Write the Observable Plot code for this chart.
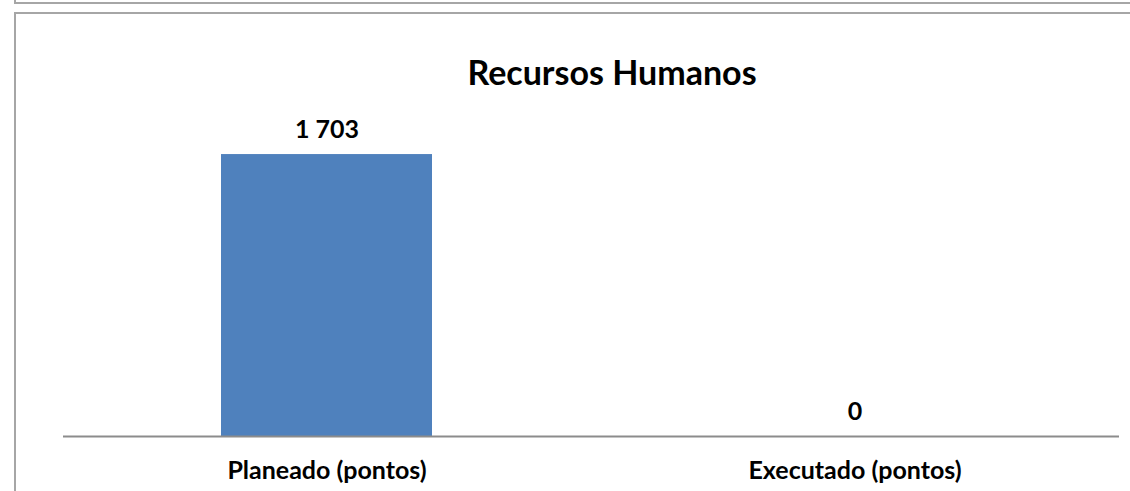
<!DOCTYPE html>
<html>
<head>
<meta charset="utf-8">
<script src="https://cdn.jsdelivr.net/npm/d3@7"></script>
<script src="https://cdn.jsdelivr.net/npm/@observablehq/plot@0.6"></script>
<style>
  html, body { margin: 0; padding: 0; background: #fff; }
  #wrap { position: relative; width: 1130px; height: 491px; overflow: hidden; font-family: Lato, "Open Sans", sans-serif; }
  .box1 { position: absolute; left: 14px; top: -10px; width: 1200px; height: 12px; border-left: 2px solid #a6a6a6; border-bottom: 2px solid #a6a6a6; }
  .box2 { position: absolute; left: 14px; top: 12px; width: 1200px; height: 600px; border-left: 2px solid #a6a6a6; border-top: 2px solid #a6a6a6; }
  #title { position: absolute; left: 612px; top: 52px; transform: translateX(-50%); font-weight: 700; font-size: 34px; color: #000; white-space: nowrap; line-height: 40px; }
  #chart { position: absolute; left: 0; top: 0; }
</style>
</head>
<body>
<div id="wrap">
  <div class="box1"></div>
  <div class="box2"></div>
  <div id="chart"></div>
  <div id="title">Recursos Humanos</div>
</div>
<script>
const categories = ["Planeado (pontos)", "Executado (pontos)"];
const values = [1703, 0];

const data = categories.map((c, i) => ({category: c, value: values[i]}));
const fmt = d3.formatLocale({decimal: ",", thousands: " ", grouping: [3], currency: ["", ""]}).format(",");

const chart = Plot.plot({
  width: 1130,
  height: 491,
  marginLeft: 63,
  marginRight: 11,
  marginTop: 138,
  marginBottom: 55,
  style: {background: "transparent", fontFamily: "Lato, 'Open Sans', sans-serif"},
  x: {domain: categories, paddingInner: 0.6, paddingOuter: 0.3, label: null},
  y: {domain: [0, 1800], axis: null},
  marks: [
    Plot.barY(data, {x: "category", y: "value", fill: "#4f81bd"}),
    Plot.ruleY([0], {stroke: "#8c8c8c", strokeWidth: 2}),
    Plot.text(data, {x: "category", y: "value", text: d => fmt(d.value), dy: -25, fontSize: 25, fontWeight: "bold", fill: "#000"}),
    Plot.axisX({tickSize: 0, tickPadding: 25, fontSize: 25, fontWeight: "bold", fill: "#000", label: null})
  ]
});
document.getElementById("chart").appendChild(chart);
</script>
</body>
</html>
